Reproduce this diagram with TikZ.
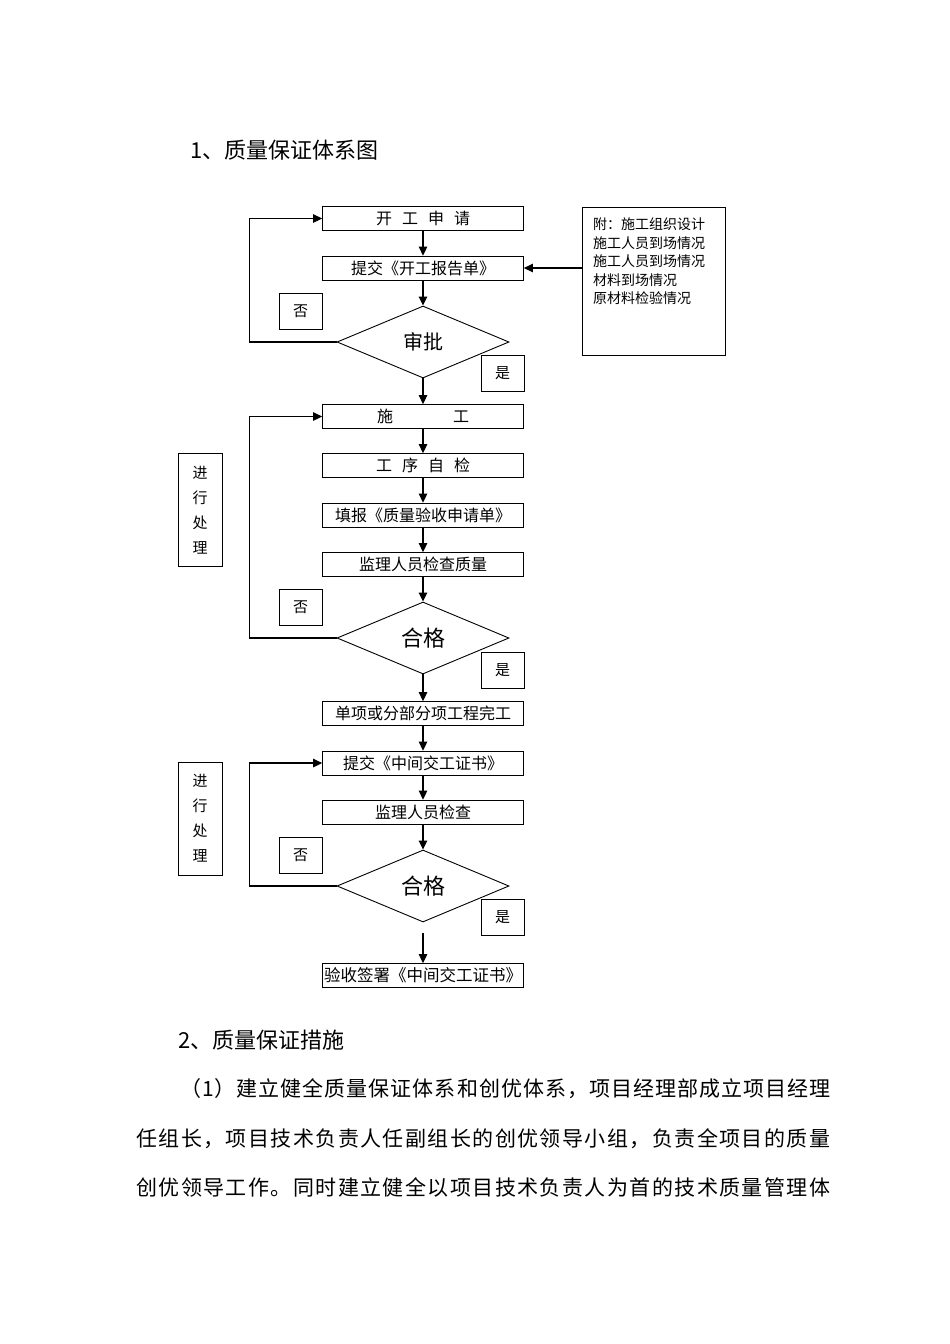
\documentclass[tikz,border=0pt]{standalone}
\usepackage{fontspec}
\newfontfamily\cjk{Noto Sans CJK SC}
\usetikzlibrary{shapes.geometric,arrows.meta}
\def\sprA#1{\ifx#1\relax\unskip\else#1\hfil\expandafter\sprA\fi}
\newcommand\spreadline[2]{\hbox to #1{\sprA#2\relax}}
\tikzset{
  procbox/.style={draw, line width=0.8pt, minimum width=201pt, minimum height=24pt, inner sep=0pt, font=\cjk\fontsize{16}{16}\selectfont},
  decide/.style={draw, diamond, aspect=2.39, minimum width=172pt, minimum height=72pt, inner sep=0pt, line width=0.9pt},
  tagbox/.style={draw, line width=0.8pt, minimum width=43pt, minimum height=36pt, inner sep=0pt, font=\cjk\fontsize{15}{15}\selectfont},
  sidebox/.style={draw, line width=0.9pt, minimum width=44pt, minimum height=113pt, inner sep=0pt, align=center, font=\cjk\fontsize{15}{25}\selectfont},
  flow/.style={line width=1.3pt, -{Triangle[length=9pt,width=8.5pt]}},
  bigtext/.style={anchor=west, inner sep=0pt, font=\cjk\fontsize{21}{21}\selectfont}
}
\begin{document}
\begin{tikzpicture}[x=1pt,y=-1pt]
\useasboundingbox (0,0) rectangle (950,1344);
\fill[white] (0,0) rectangle (950,1344);

% titles
\node[bigtext, font=\cjk\fontsize{22}{22}\selectfont] (title1) at (190,150) {1、质量保证体系图};

% part 1
\node[procbox] (b1) at (423,218.5) {开\hspace{10pt}工\hspace{10pt}申\hspace{10pt}请};
\node[procbox] (b2) at (423,268) {提交《开工报告单》};
\node[draw, line width=0.8pt, minimum width=143pt, minimum height=148pt, anchor=north west, inner sep=0pt] (att) at (582,207) {};
\node[anchor=north west, align=left, inner sep=0pt, font=\cjk\fontsize{14}{18.5}\selectfont] (atttext) at (593,218) {附：施工组织设计\\施工人员到场情况\\施工人员到场情况\\材料到场情况\\原材料检验情况};
\node[decide, font=\cjk\fontsize{20}{20}\selectfont] (d1) at (423,342) {审批};
\node[tagbox] (no1) at (300.5,311) {否};
\node[tagbox] (yes1) at (502.5,373) {是};

% part 2
\node[procbox] (s1) at (423,416.5) {施\hspace{60pt}工};
\node[procbox] (s2) at (423,465.5) {工\hspace{10pt}序\hspace{10pt}自\hspace{10pt}检};
\node[procbox] (s3) at (423,515) {填报《质量验收申请单》};
\node[procbox] (s4) at (423,564.5) {监理人员检查质量};
\node[decide, font=\cjk\fontsize{22}{22}\selectfont] (d2) at (423,638) {合格};
\node[tagbox] (no2) at (300.5,607.5) {否};
\node[tagbox] (yes2) at (502.5,670) {是};
\node[sidebox] (proc1) at (200,510) {进\\行\\处\\理};

% part 3
\node[procbox] (t1) at (423,713.5) {单项或分部分项工程完工};
\node[procbox] (t2) at (423,763) {提交《中间交工证书》};
\node[procbox] (t3) at (423,812) {监理人员检查};
\node[decide, font=\cjk\fontsize{22}{22}\selectfont] (d3) at (423,886) {合格};
\node[tagbox] (no3) at (300.5,855) {否};
\node[tagbox] (yes3) at (502.5,917.5) {是};
\node[sidebox] (proc2) at (200,818.5) {进\\行\\处\\理};
\node[procbox, font=\cjk\fontsize{16.5}{16.5}\selectfont] (final) at (423,975.5) {验收签署《中间交工证书》};
\coordinate (fs) at (423,933);

% connectors
\draw[flow] (b1) -- (b2);
\draw[flow] (b2) -- (d1);
\draw[flow] (att.west |- b2) -- (b2.east);
\draw[flow] (d1.west) -- ++(-87,0) |- (b1.west);
\draw[flow] (d1) -- (s1);
\draw[flow] (s1) -- (s2);
\draw[flow] (s2) -- (s3);
\draw[flow] (s3) -- (s4);
\draw[flow] (s4) -- (d2);
\draw[flow] (d2.west) -- ++(-87,0) |- (s1.west);
\draw[flow] (d2) -- (t1);
\draw[flow] (t1) -- (t2);
\draw[flow] (t2) -- (t3);
\draw[flow] (t3) -- (d3);
\draw[flow] (d3.west) -- ++(-87,0) |- (t2.west);
\draw[flow] (fs) -- (final);

% text below
\node[bigtext, font=\cjk\fontsize{22}{22}\selectfont] (title2) at (178,1040) {2、质量保证措施};
\node[bigtext] (p1) at (180,1089) {\spreadline{650pt}{（1）建立健全质量保证体系和创优体系，项目经理部成立项目经理}};
\node[bigtext] (p2) at (136,1139) {\spreadline{694pt}{任组长，项目技术负责人任副组长的创优领导小组，负责全项目的质量}};
\node[bigtext] (p3) at (136,1187) {\spreadline{694pt}{创优领导工作。同时建立健全以项目技术负责人为首的技术质量管理体}};
\end{tikzpicture}
\end{document}
